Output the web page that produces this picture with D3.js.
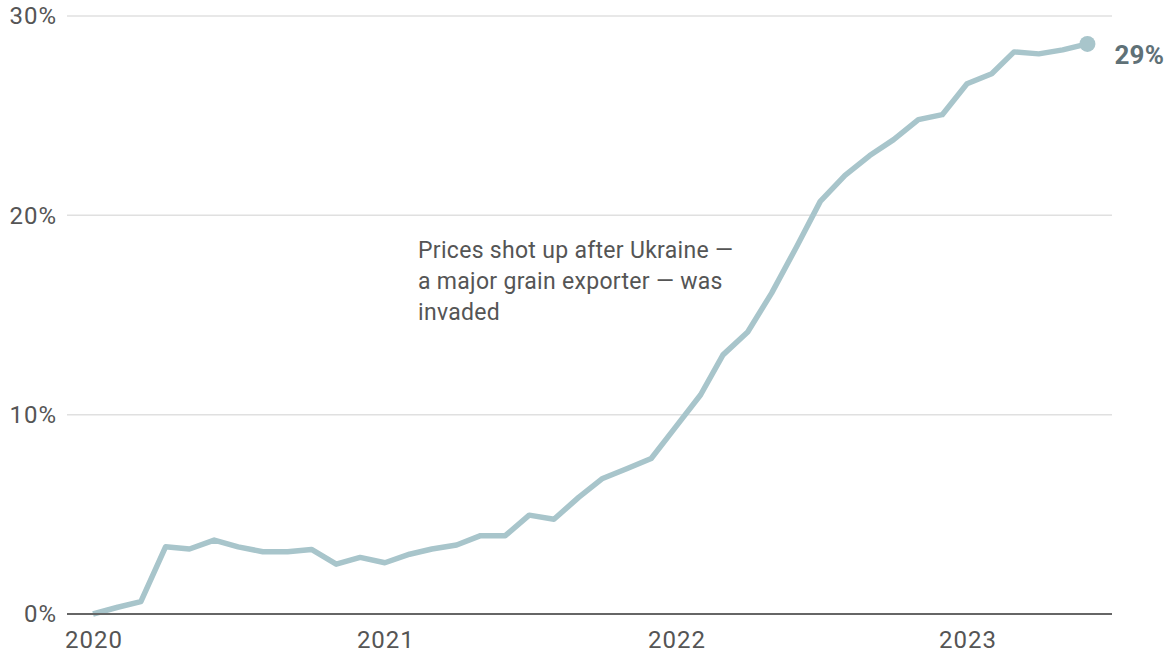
<!DOCTYPE html>
<html>
<head>
<meta charset="utf-8">
<script src="https://cdn.jsdelivr.net/npm/d3@7"></script>
<style>
  body { margin: 0; background: #fff; }
  svg text { font-family: Roboto, "Liberation Sans", sans-serif; }
</style>
</head>
<body>
<div id="chart"></div>
<script>
// data: monthly change since Jan 2020, in percent
const months = d3.timeMonths(new Date(2020, 0, 1), new Date(2023, 6, 1));
const values = [
  0, 0.34, 0.62, 3.37, 3.26, 3.71, 3.37, 3.12, 3.12, 3.24, 2.5, 2.84,
  2.57, 3.0, 3.26, 3.46, 3.93, 3.93, 4.96, 4.75, 5.85, 6.8, 7.3, 7.8,
  9.4, 11.0, 13.0, 14.15, 16.1, 18.4, 20.7, 22.0, 23.0, 23.8, 24.8, 25.05,
  26.6, 27.1, 28.2, 28.1, 28.3, 28.6
];
const yTicks = [0, 10, 20, 30];
const xTicks = [2020, 2021, 2022, 2023];
const endLabel = '29%';
const noteLines = [
  'Prices shot up after Ukraine \u2014',
  'a major grain exporter \u2014 was',
  'invaded'
];

const data = months.map((d, i) => ({ date: d, value: values[i] }));

const WIDTH = 1173;
const HEIGHT = 653;
const LINE_COLOR = '#a8c5cb';
const TEXT_COLOR = '#555';

const svg = d3.select('#chart')
  .append('svg')
  .attr('width', WIDTH)
  .attr('height', HEIGHT);

const x = d3.scaleTime()
  .domain([new Date(2020, 0, 1), new Date(2023, 0, 1)])
  .range([93, 967]);
const y = d3.scaleLinear()
  .domain([0, 30])
  .range([614, 16]);

// gridlines
svg.append('g')
  .selectAll('line')
  .data(yTicks.filter((d) => d > 0))
  .join('line')
  .attr('x1', 67)
  .attr('x2', 1112)
  .attr('y1', (d) => y(d))
  .attr('y2', (d) => y(d))
  .attr('stroke', '#e0e0e0')
  .attr('stroke-width', 1.5);

// y labels
svg.append('g')
  .selectAll('text')
  .data(yTicks)
  .join('text')
  .attr('x', 57)
  .attr('y', (d) => y(d))
  .attr('dy', '0.35em')
  .attr('text-anchor', 'end')
  .attr('font-size', 24)
  .attr('letter-spacing', 1)
  .attr('fill', TEXT_COLOR)
  .text((d) => d + '%');

// x labels
svg.append('g')
  .selectAll('text')
  .data(xTicks)
  .join('text')
  .attr('x', (d) => x(new Date(d, 0, 1)) + 1)
  .attr('y', 648)
  .attr('text-anchor', 'middle')
  .attr('font-size', 24)
  .attr('letter-spacing', 1)
  .attr('fill', TEXT_COLOR)
  .text((d) => d);

// the line
const line = d3.line()
  .x((d) => x(d.date))
  .y((d) => y(d.value));

svg.append('path')
  .datum(data)
  .attr('d', line)
  .attr('fill', 'none')
  .attr('stroke', LINE_COLOR)
  .attr('stroke-width', 5.5)
  .attr('stroke-linejoin', 'round');

// baseline
svg.append('line')
  .attr('x1', 67)
  .attr('x2', 1112)
  .attr('y1', y(0))
  .attr('y2', y(0))
  .attr('stroke', '#666')
  .attr('stroke-width', 2);

// end dot + label
const last = data[data.length - 1];
svg.append('circle')
  .attr('cx', x(last.date))
  .attr('cy', y(last.value))
  .attr('r', 8)
  .attr('fill', LINE_COLOR);
svg.append('text')
  .attr('x', x(last.date) + 27)
  .attr('y', y(last.value) + 20)
  .attr('font-size', 26)
  .attr('font-weight', 'bold')
  .attr('letter-spacing', 0.2)
  .attr('fill', '#5f7177')
  .text(endLabel);

// annotation
svg.append('g')
  .selectAll('text')
  .data(noteLines)
  .join('text')
  .attr('x', 418)
  .attr('y', (d, i) => 258 + i * 31)
  .attr('font-size', 23)
  .attr('letter-spacing', 0.3)
  .attr('fill', TEXT_COLOR)
  .text((d) => d);
</script>
</body>
</html>
